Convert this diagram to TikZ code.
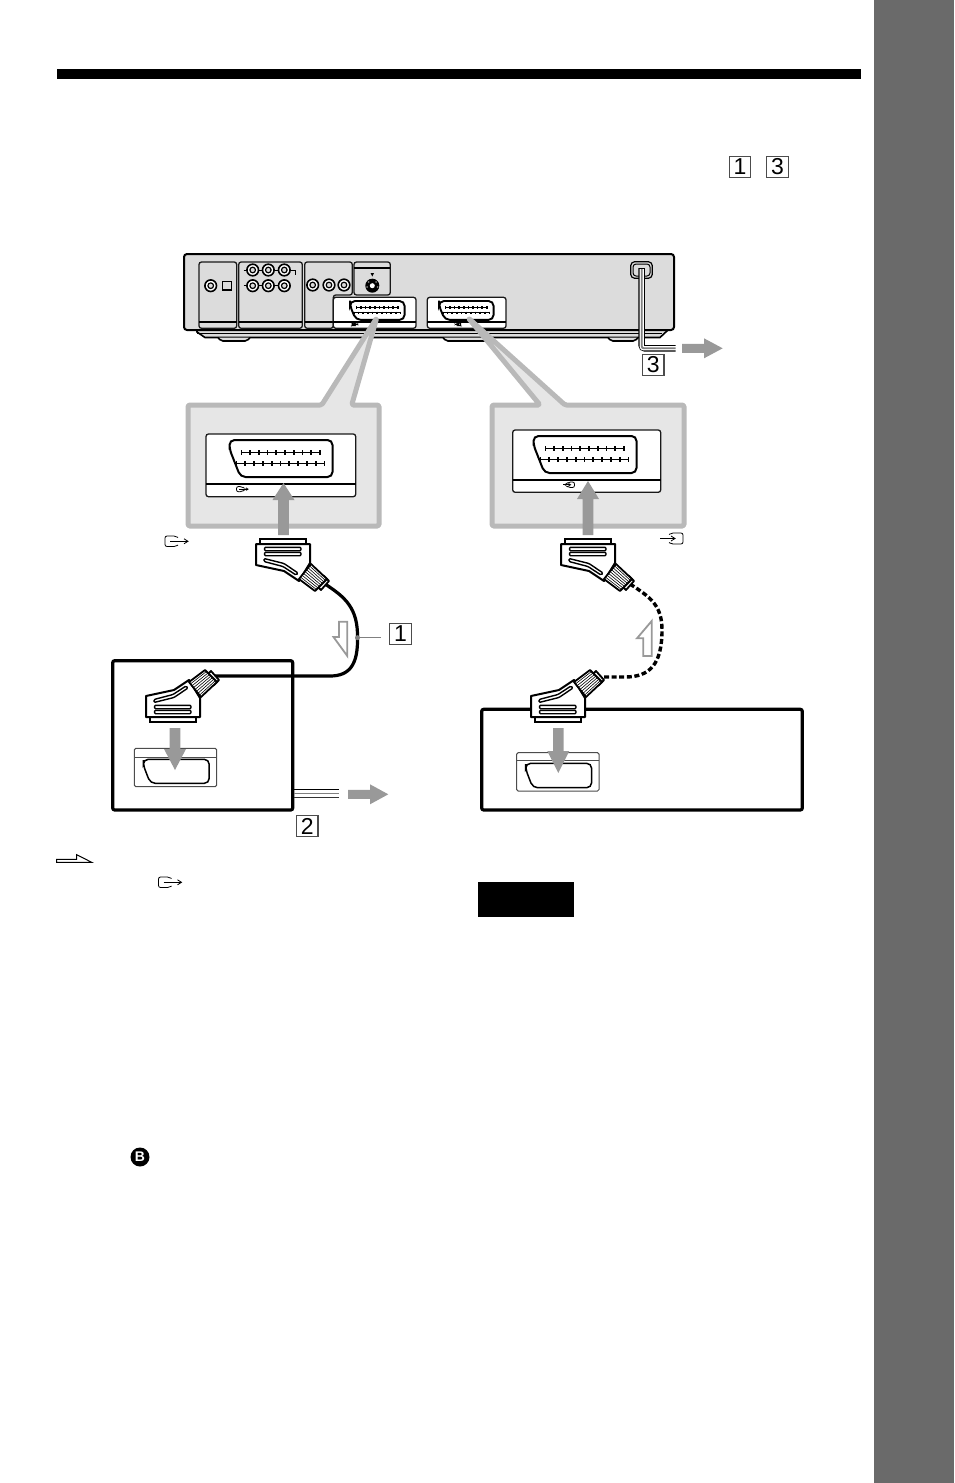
\documentclass[tikz,border=0pt]{standalone}
\usepackage{fontspec}
\setmainfont{Liberation Sans}

\definecolor{bodygray}{HTML}{DCDCDC}
\definecolor{boxgray}{HTML}{E6E6E6}
\definecolor{edgegray}{HTML}{B9B9B9}
\definecolor{arrowgray}{HTML}{999999}
\definecolor{stripgray}{HTML}{6A6A6A}

\tikzset{
	numbox/.style={draw=black!70, fill=white, line width=1.3pt, minimum size=21.5pt, inner sep=0pt, font=\fontsize{23}{23}\selectfont},
	callout/.style={draw=edgegray, fill=boxgray, line width=5pt, line join=round, rounded corners=1.5pt},
	panel/.style={draw=black!90, line width=1.3pt, rounded corners=2.5pt},
	tvbox/.style={draw=black, line width=3.2pt, rounded corners=2pt},
	scart/.pic={
		\draw[fill=white, rounded corners=5pt, line width=#1] (0,0) -- (103,0) -- (103,37) -- (11,37) -- (0,9) -- cycle;
	},
	scart/.default=1.6pt,
	pinrows/.pic={
		\draw[line width=1pt] (12,12.5) -- (91,12.5);
		\draw[line width=1pt] (7,23.5) -- (95,23.5);
		\foreach \i in {0,...,9}
			\draw[line width=1.7pt] (12+8.7*\i,10) -- (12+8.7*\i,15);
		\foreach \i in {0,...,10}
			\draw[line width=1.7pt] (7+8.8*\i,21) -- (7+8.8*\i,26);
	},
	plug/.pic={
		\draw[fill=white, line width=1.6pt] (-23,0) -- (23,0) -- (23,5) -- (-23,5) -- cycle;
		\draw[fill=white, line width=2pt, line join=round] (-27,5) -- (27,5) -- (27,24) -- (16,42) -- (1,32) -- (-27,26) -- cycle;
		\foreach \y in {8.3,13.3}
			\draw[fill=white, line width=1.4pt, rounded corners=1pt] (-18.5,\y) rectangle (18,\y+3.4);
		\draw[fill=white, line width=1.4pt, rounded corners=1.2pt] (-19,19.5) -- (1,24.5) -- (15,34) -- (13,36) -- (0,27.5) -- (-19,22.5) -- cycle;
		\draw[fill=white, line width=1.8pt, line join=round] (41,37) -- (46,42) -- (38,51) -- (33,46) -- cycle;
		\draw[fill=white, line width=1.8pt, line join=round] (28,25) -- (44,40) -- (32,52) -- (16,40) -- cycle;
		\foreach \t in {.125,.25,...,.9}
			\draw[line width=.6pt] ({28-12*\t},{25+15*\t}) -- ({44-12*\t},{40+12*\t});
	},
	symout/.pic={
		\draw[line width=.8pt, rounded corners=2pt] (13,1.5) -- (11,0) -- (0,0) -- (0,10.5) -- (11,10.5) -- (13,9);
		\draw[line width=.8pt] (5,5.3) -- (22,5.3);
		\draw[line width=.8pt] (19,2.8) -- (23,5.3) -- (19,7.8);
	},
	symin/.pic={
		\draw[line width=.8pt, rounded corners=2pt] (9,1.5) -- (11,0) -- (23,0) -- (23,11) -- (11,11) -- (9,9.5);
		\draw[line width=.8pt] (0,5.5) -- (14,5.5);
		\draw[line width=.8pt] (11,3) -- (15,5.5) -- (11,8);
	}
}

\begin{document}
\begin{tikzpicture}[x=1pt, y=-1pt]
\useasboundingbox (0,0) rectangle (954,1483);

%Page
\fill[stripgray] (874,0) rectangle (954,1483);
\fill[black] (57,69) rectangle (861,79);

%Number boxes
\node[numbox] (lab1top) at (740,167) {1};
\node[numbox] (lab3top) at (777.5,167) {3};

%Back of the player
\draw[fill=bodygray, line width=1.6pt] (197,330) -- (197,332) -- (205,337.5) -- (660,337.5) -- (668,330) -- cycle;
\foreach \a/\b in {218/250, 443/490, 608/638}
	\draw[fill=bodygray, line width=1.6pt, rounded corners=2pt] (\a,337.5) -- (\a+3,341) -- (\b-3,341) -- (\b,337.5);
\draw[fill=bodygray, line width=2pt, rounded corners=3pt] (184,330) -- (184,254) -- (674,254) -- (674,330) -- cycle;
\draw[line width=1.5pt] (197,333.5) -- (662,333.5);

%Panels
\draw[panel] (199,262) rectangle (236.7,328.3);
\draw[panel] (238.7,262) rectangle (302.3,328.3);
\draw[panel] (304.7,328.3) -- (304.7,262) -- (352.3,262) -- (352.3,295) -- (333.3,295) -- (333.3,328.3) -- cycle;
\draw[panel] (354,262) rectangle (390.3,295);
\draw[line width=1.2pt] (354,268) -- (390.3,268);
\foreach \a/\b in {199/236.7, 238.7/302.3, 304.7/333.3}
	\draw[line width=1.8pt] (\a,321.7) -- (\b,321.7);
\draw[panel, fill=white] (333.3,297.3) rectangle (416,328.3);
\draw[panel, fill=white] (427.3,297.3) rectangle (506,328.3);
\draw[line width=1.8pt] (333.3,321.7) -- (416,321.7);
\draw[line width=1.8pt] (427.3,321.7) -- (506,321.7);
\pic[xscale=.53, yscale=.51] at (350,301) {scart=1.9pt};
\pic[xscale=.53, yscale=.51] at (350,301) {pinrows};
\pic[xscale=.53, yscale=.51] at (439,301) {scart=1.9pt};
\pic[xscale=.53, yscale=.51] at (439,301) {pinrows};
\pic[scale=.25] at (352,323) {symout};
\pic[scale=.25] at (455,323) {symin};

%Jacks
\foreach \x/\y in {210.7/285.7, 252.7/270, 268.3/270, 284.3/270, 252.7/285.7, 268.3/285.7, 284.3/285.7, 312.7/285, 329/285, 344/285} {
	\draw[fill=white, line width=1.6pt] (\x,\y) circle (5.8pt);
	\draw[fill=bodygray, line width=1.2pt] (\x,\y) circle (2.8pt);
}
\draw[fill=bodygray, line width=1.6pt] (222.5,281.5) rectangle (231.5,290);
\foreach \y in {270,285.7} {
	\draw[line width=.9pt] (243.5,\y) -- (247,\y);
	\draw[line width=.9pt] (258,\y) -- (263,\y);
	\draw[line width=.9pt] (274,\y) -- (279,\y);
}
\draw[line width=1pt] (290,270) -- (295,270) -- (295,275);
\fill (372.3,285.7) circle (7pt);
\fill[white] (372.3,285.7) circle (2.5pt);
\foreach \x/\y in {368.5/282, 376/282, 367/287, 377.5/287}
	\fill[gray] (\x,\y) circle (1pt);
\fill (370.5,273) -- (374,273) -- (372.3,276.5) -- cycle;

%Power socket and cord
\draw[fill=bodygray, line width=1.2pt, rounded corners=4pt] (630.7,261.7) rectangle (652.3,278.3);
\draw[fill=bodygray, line width=1pt, rounded corners=3pt] (633,264) rectangle (650,276);
\draw[line width=6.5pt, rounded corners=3pt] (641.7,268) -- (641.7,348.3) -- (675.7,348.3);
\draw[white, line width=4.2pt, rounded corners=2pt] (641.7,269) -- (641.7,348.3) -- (676,348.3);
\draw[gray, line width=1.8pt, rounded corners=2pt] (641.7,269) -- (641.7,348.3) -- (675.7,348.3);
\node[numbox] (lab3) at (653.3,365) {3};

%Enlarged outputs
\draw[callout] (188,405) -- (321.7,405) -- (376.7,318) -- (351.7,405) -- (379,405) -- (379,526) -- (188,526) -- cycle;
\draw[callout] (492,405) -- (540,405) -- (468.3,318) -- (565,405) -- (684,405) -- (684,526) -- (492,526) -- cycle;
\draw[panel, fill=white] (206,434) rectangle (355.7,496.7);
\draw[line width=1.2pt] (206,484) -- (355.7,484);
\pic at (229.5,440) {scart=2pt};
\pic at (229.5,440) {pinrows};
\pic[scale=.5] at (236.5,486.5) {symout};
\draw[panel, fill=white] (512.7,430) rectangle (660.7,492.3);
\draw[line width=1.2pt] (512.7,480) -- (660.7,480);
\pic at (533.5,436) {scart=2pt};
\pic at (533.5,436) {pinrows};
\pic[scale=.5] at (563,482) {symin};

%Connection symbols
\pic at (165,536) {symout};
\pic at (660,533) {symin};
\pic at (158.5,877) {symout};

%TV and VCR boxes
\draw[tvbox] (112.7,660.7) rectangle (292.7,810);
\draw[tvbox] (481.7,709.3) rectangle (802.3,810);
\draw[line width=1pt, draw=black!70, rounded corners=1.5pt] (134.3,748.3) rectangle (216.7,786.7);
\draw[line width=.8pt, draw=black!70] (134.3,757.3) -- (216.7,757.3);
\pic[xscale=.64, yscale=.65] at (143.3,759.3) {scart=1.5pt};
\draw[line width=1pt, draw=black!70, fill=white, rounded corners=1.5pt] (516.7,752.7) rectangle (599,791);
\draw[line width=.8pt, draw=black!70] (516.7,760.7) -- (599,760.7);
\pic[xscale=.64, yscale=.66] at (525.7,763.3) {scart=1.5pt};

%Cables
\coordinate (plugA) at (283,539);
\coordinate (plugB) at (173,722);
\coordinate (plugC) at (588,539);
\coordinate (plugD) at (558,722);
\coordinate (dotA) at (357.5,637.7);
\coordinate (leadA) at (380.7,637.7);
\draw[line width=3.2pt] (325,584) .. controls (345,597) and (358,608) .. (357.5,637.7) .. controls (358,664) and (350,676) .. (330,676) -- (215,676);
\draw[line width=3.4pt, dash pattern=on 5pt off 2.6pt] (630,584) .. controls (650,597) and (662,605) .. (662,630) .. controls (662,664) and (650,677) .. (625,677) -- (600,677);
\foreach \y/\c in {789.3/black, 793.3/gray, 797.7/black!80}
	\draw[\c, line width=1.2pt] (294,\y) -- (338.7,\y);
\node[numbox] (lab2) at (307.3,826) {2};
\node[numbox] (lab1) at (400.5,634) {1};
\fill[gray] (dotA) circle (2.5pt);
\draw[gray, line width=1.2pt] (dotA) -- (leadA);

%Signal flow
\draw[arrowgray, line width=1.8pt, fill=white, line join=miter] (339,621.7) -- (347.3,621.7) -- (347.3,656) -- (333.5,637) -- (339,637) -- cycle;
\draw[arrowgray, line width=1.8pt, fill=white, line join=miter] (643.3,656) -- (651.7,656) -- (651.7,621) -- (637,638.3) -- (643.3,638.3) -- cycle;

%Plugs
\pic at (plugA) {plug};
\pic at (plugC) {plug};
\pic[yscale=-1] at (plugB) {plug};
\pic[yscale=-1] at (plugD) {plug};

%Gray arrows
\foreach \x/\a/\b/\c in {283.5/535/500/483, 588/535/499/481, 175/728/749/770, 558.3/728/751/773}
	\fill[arrowgray] (\x-5.3,\a) -- (\x-5.3,\b) -- (\x-11,\b) -- (\x,\c) -- (\x+11,\b) -- (\x+5.3,\b) -- (\x+5.3,\a) -- cycle;
\foreach \y/\a/\b/\c in {794.3/348/370/388.3, 348.3/682/704/722.7}
	\fill[arrowgray] (\a,\y-4.5) -- (\b,\y-4.5) -- (\b,\y-10) -- (\c,\y) -- (\b,\y+10) -- (\b,\y+4.5) -- (\a,\y+4.5) -- cycle;

%Legend arrow
\draw[line width=1pt, fill=white] (56.7,859.3) -- (76.7,859.3) -- (76.7,854.7) -- (91.7,862.3) -- (56.7,862.3) -- cycle;

%Note tag and step mark
\node[fill=black, minimum width=96pt, minimum height=35pt, inner sep=0pt] (notetag) at (526,899.5) {};
\node[circle, fill=black, minimum size=19pt, inner sep=0pt, text=white, font=\fontsize{14}{14}\selectfont\bfseries] (stepB) at (140,1157) {B};

\end{tikzpicture}
\end{document}
